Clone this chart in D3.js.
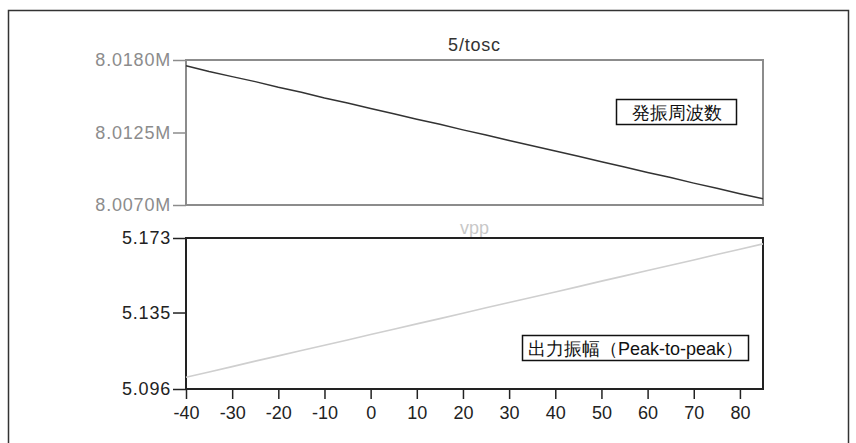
<!DOCTYPE html>
<html>
<head>
<meta charset="utf-8">
<script src="https://cdn.jsdelivr.net/npm/d3@7"></script>
<style>
  html, body { margin: 0; padding: 0; background: #fff; }
  svg { display: block; }
  text { font-family: "Liberation Sans", Arial, sans-serif; }
</style>
</head>
<body>
<svg id="chart" width="856" height="443"></svg>
<script>
// Temperature sweep (°C)
const temperature = [-40, -35, -30, -25, -20, -15, -10, -5, 0, 5, 10, 15, 20, 25, 30, 35, 40, 45, 50, 55, 60, 65, 70, 75, 80, 85];
// Oscillation frequency 5/tosc (MHz)
const frequency = [8.01757, 8.01712, 8.01674, 8.01636, 8.01593, 8.01555, 8.01512, 8.01474, 8.01432, 8.01393, 8.01351, 8.01312, 8.01270, 8.01231, 8.01189, 8.01150, 8.01109, 8.01070, 8.01028, 8.00989, 8.00947, 8.00908, 8.00866, 8.00827, 8.00786, 8.00748];
// Output amplitude vpp (V)
const amplitude = [5.1020, 5.1047, 5.1074, 5.1102, 5.1129, 5.1156, 5.1183, 5.1210, 5.1238, 5.1265, 5.1292, 5.1319, 5.1346, 5.1374, 5.1401, 5.1428, 5.1455, 5.1482, 5.1510, 5.1537, 5.1564, 5.1591, 5.1618, 5.1646, 5.1673, 5.1700];

const xTicks = [-40, -30, -20, -10, 0, 10, 20, 30, 40, 50, 60, 70, 80];
const freqTicks = [8.0070, 8.0125, 8.0180];
const ampTicks = [5.096, 5.135, 5.173];

const svg = d3.select("#chart");
const FONT = "'Liberation Sans', Arial, sans-serif";

// outer frame
svg.append("rect")
  .attr("x", 8.5).attr("y", 10.5)
  .attr("width", 840).attr("height", 450)
  .attr("fill", "none").attr("stroke", "#333").attr("stroke-width", 1.5);

const left = 186, right = 763;
const x = d3.scaleLinear().domain([-40, 85]).range([left, right]);

// ---------- upper panel: frequency ----------
const topY = d3.scaleLinear().domain([8.0070, 8.0180]).range([205, 60]);
const topColor = "#8c8c8c";

svg.append("text")
  .attr("x", (left + right) / 2).attr("y", 51)
  .attr("text-anchor", "middle")
  .attr("font-size", 18).attr("fill", "#333").attr("letter-spacing", "0.8px")
  .text("5/tosc");

const topAxis = svg.append("g")
  .attr("transform", `translate(${left},0)`)
  .call(d3.axisLeft(topY).tickValues(freqTicks).tickSize(13).tickSizeOuter(0).tickPadding(2)
    .tickFormat(d => d3.format(".4f")(d) + "M"));
topAxis.select(".domain").remove();
topAxis.selectAll("line").attr("stroke", topColor).attr("stroke-width", 1.5);
topAxis.selectAll("text").attr("fill", topColor).attr("font-size", 18)
  .attr("font-family", FONT).attr("letter-spacing", "0.8px");

svg.append("rect")
  .attr("x", left).attr("y", topY(8.0180))
  .attr("width", right - left).attr("height", topY(8.0070) - topY(8.0180))
  .attr("fill", "none").attr("stroke", topColor).attr("stroke-width", 2);

svg.append("path")
  .datum(temperature.map((t, i) => [t, frequency[i]]))
  .attr("fill", "none").attr("stroke", "#333").attr("stroke-width", 1.5)
  .attr("d", d3.line().x(d => x(d[0])).y(d => topY(d[1])));

// legend box
const fLabel = svg.append("g");
fLabel.append("rect")
  .attr("x", 616.5).attr("y", 99.5).attr("width", 120).attr("height", 25)
  .attr("fill", "#fff").attr("stroke", "#111").attr("stroke-width", 1.5);
fLabel.append("text")
  .attr("x", 676.5).attr("y", 118.5).attr("text-anchor", "middle")
  .attr("font-size", 18).attr("fill", "#111")
  .attr("font-family", "'Noto Sans CJK JP', sans-serif")
  .text("発振周波数");

// ---------- lower panel: amplitude ----------
const botY = d3.scaleLinear().domain([5.096, 5.173]).range([389, 238]);

svg.append("text")
  .attr("x", (left + right) / 2).attr("y", 234)
  .attr("text-anchor", "middle")
  .attr("font-size", 18).attr("fill", "#c8c8c8")
  .text("vpp");

const botAxis = svg.append("g")
  .attr("transform", `translate(${left},0)`)
  .call(d3.axisLeft(botY).tickValues(ampTicks).tickSize(13).tickSizeOuter(0).tickPadding(2)
    .tickFormat(d3.format(".3f")));
botAxis.select(".domain").remove();
botAxis.selectAll("line").attr("stroke", "#222").attr("stroke-width", 1.5);
botAxis.selectAll("text").attr("fill", "#222").attr("font-size", 18)
  .attr("font-family", FONT).attr("letter-spacing", "0.8px");

const xAxis = svg.append("g")
  .attr("transform", `translate(0,389)`)
  .call(d3.axisBottom(x).tickValues(xTicks).tickSize(10).tickSizeOuter(0).tickPadding(7)
    .tickFormat(d => String(d)));
xAxis.select(".domain").remove();
xAxis.selectAll("line").attr("stroke", "#222").attr("stroke-width", 1.5);
xAxis.selectAll("text").attr("fill", "#222").attr("font-size", 18)
  .attr("font-family", FONT);

svg.append("rect")
  .attr("x", left).attr("y", botY(5.173))
  .attr("width", right - left).attr("height", botY(5.096) - botY(5.173))
  .attr("fill", "none").attr("stroke", "#222").attr("stroke-width", 2);

svg.append("path")
  .datum(temperature.map((t, i) => [t, amplitude[i]]))
  .attr("fill", "none").attr("stroke", "#cfcfcf").attr("stroke-width", 1.6)
  .attr("d", d3.line().x(d => x(d[0])).y(d => botY(d[1])));

const aLabel = svg.append("g");
aLabel.append("rect")
  .attr("x", 522.5).attr("y", 335.5).attr("width", 226).attr("height", 25)
  .attr("fill", "#fff").attr("stroke", "#111").attr("stroke-width", 1.5);
aLabel.append("text")
  .attr("x", 635.5).attr("y", 354.5).attr("text-anchor", "middle")
  .attr("font-size", 18).attr("fill", "#111")
  .attr("font-family", "'Noto Sans CJK JP', sans-serif")
  .text("出力振幅（Peak-to-peak）");
</script>
</body>
</html>
